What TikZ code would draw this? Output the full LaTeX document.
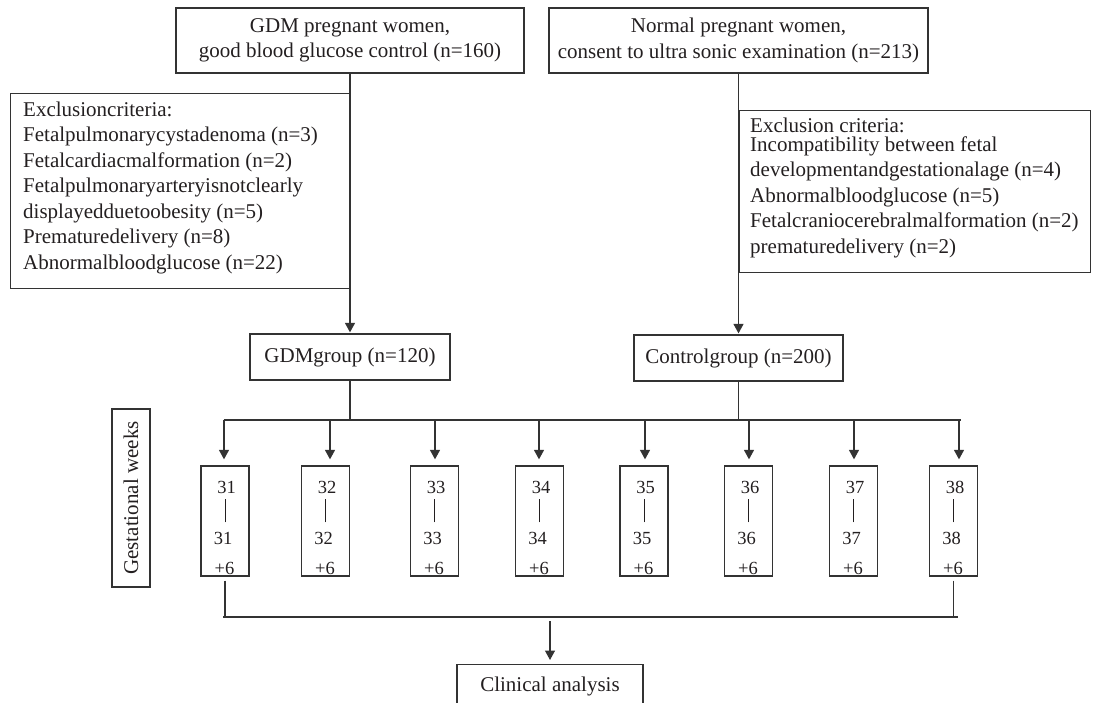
\documentclass[tikz,border=0pt]{standalone}
\usepackage{fontspec}
\setmainfont{Liberation Serif}
\usetikzlibrary{arrows.meta,calc}
\definecolor{linec}{HTML}{333333}
\definecolor{textc}{HTML}{231F20}
\begin{document}
\begin{tikzpicture}[x=1pt,y=-1pt,
  font=\fontsize{21}{25.5}\selectfont, text=textc,
  box/.style={draw=linec, line width=1.3pt, inner sep=0pt},
  conn/.style={draw=linec, line width=1.3pt},
  arr/.style={conn, -{Triangle[length=9.5pt,width=10pt]}},
  txt/.style={inner sep=0pt, align=left, anchor=north west},
  numbox/.style={box, minimum width=48, minimum height=110},
  num/.style={inner sep=0pt, anchor=base, font=\fontsize{18.5}{20}\selectfont},
]
\useasboundingbox (0,0) rectangle (1097,703);

% top boxes
\node[box, minimum width=348, minimum height=65, align=center] (gdm) at (350,40.5)
  {GDM pregnant women,\\ good blood glucose control (n=160)};
\node[box, minimum width=379, minimum height=65, align=center] (norm) at (738.5,40.5)
  {Normal pregnant women,\\consent to ultra sonic examination (n=213)};

% exclusion boxes
\node[box, anchor=north west, minimum width=340, minimum height=195] (exl) at (10,93) {};
\node[txt] (exlt) at (23,101.5) {Exclusioncriteria:\\
Fetalpulmonarycystadenoma (n=3)\\
Fetalcardiacmalformation (n=2)\\
Fetalpulmonaryarteryisnotclearly\\
displayedduetoobesity (n=5)\\
Prematuredelivery (n=8)\\
Abnormalbloodglucose (n=22)};

\node[box, anchor=north west, minimum width=351, minimum height=162] (exr) at (738.5,110) {};
\node[txt] (exrt) at (750,117.5) {Exclusion criteria:\\[-6.5pt]
Incompatibility between fetal\\
developmentandgestationalage (n=4)\\
Abnormalbloodglucose (n=5)\\
Fetalcraniocerebralmalformation (n=2)\\
prematuredelivery (n=2)};

% groups
\node[box, minimum width=200, minimum height=46] (gdmg) at (350,357) {GDMgroup (n=120)};
\node[box, minimum width=209, minimum height=46] (ctrl) at (738.5,358) {Controlgroup (n=200)};

\draw[arr, shorten >=1pt] (gdm.south) -- (gdmg.north);
\draw[arr, shorten >=1pt] (norm.south) -- (ctrl.north);

% gestational weeks label
\node[box, rotate=90, minimum width=178, minimum height=38] (gw) at (131,498) {Gestational weeks};

% week boxes
\coordinate (topbar) at (0,420);
\coordinate (botbar) at (0,617);
\foreach \n/\cx/\ax in {31/225/-1, 32/325.5/4.5, 33/434.5/0.5, 34/539.5/-0.5, 35/644/1, 36/748.5/0.5, 37/853.5/0.5, 38/953.5/5.5}{
  \node[numbox] (w\n) at (\cx,521) {};
  \node[num] (w\n a) at ($(w\n.north)+(1.5,28)$) {\n};
  \node[inner sep=0pt, text=textc, anchor=center] (w\n b) at ($(w\n.north)+(0,45.5)$) {\rule{0.9pt}{23pt}};
  \node[num] (w\n c) at ($(w\n.north)+(-2,79)$) {\n};
  \node[num] (w\n d) at ($(w\n.north)+(-0.5,109.5)$) {+6};
  \draw[arr, shorten >=6pt] ($(w\n.north |- topbar)+(\ax,0)$) -- ($(w\n.north)+(\ax,0)$);
}

\draw[conn] (gdmg.south) -- (gdmg.south |- topbar);
\draw[conn] (ctrl.south) -- (ctrl.south |- topbar);
\draw[conn] ($(w31.north |- topbar)+(-1.5,0)$) -- ($(w38.north |- topbar)+(7.5,0)$);

% bottom
\node[box, anchor=north, minimum width=186, minimum height=44] (clin) at (550,664) {Clinical analysis};
\draw[conn, shorten <=4pt] (w31.south) -- (w31.south |- botbar);
\draw[conn, shorten <=4pt] (w38.south) -- (w38.south |- botbar);
\draw[conn] ($(w31.south |- botbar)+(-2,0)$) -- ($(w38.south |- botbar)+(4,0)$);
\draw[arr, shorten <=4pt, shorten >=4pt] (clin.north |- botbar) -- (clin.north);
\end{tikzpicture}
\end{document}
